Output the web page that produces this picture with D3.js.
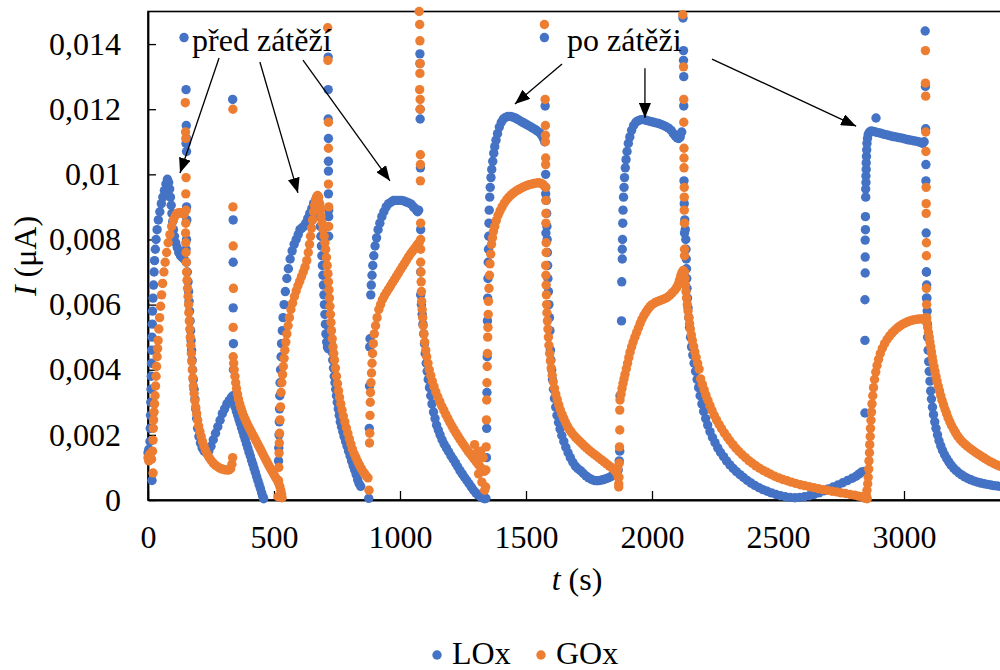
<!DOCTYPE html>
<html><head><meta charset="utf-8">
<script src="https://cdn.jsdelivr.net/npm/d3@7/dist/d3.min.js"></script>
<style>html,body{margin:0;padding:0;background:#fff}svg{display:block}
svg text{font-family:'Liberation Serif','Times New Roman','DejaVu Serif',serif !important;}</style>
</head><body>
<svg id="chart" width="1000" height="670"></svg>
<script>
// ---------------- data: [t (s), I (µA)] ----------------
const xTickValues = [0,500,1000,1500,2000,2500,3000];
const xTickLabels = ["0","500","1000","1500","2000","2500","3000"];
const yTickValues = [0,0.002,0.004,0.006,0.008,0.01,0.012,0.014];
const yTickLabels = ["0","0,002","0,004","0,006","0,008","0,01","0,012","0,014"];
const seriesNames = ["LOx","GOx"];

const lox1 = [[0,1.45e-3],[3,1.55e-3],[6,1.3e-3],[16,0.6e-3],[8,1.8e-3],[9,2.2e-3],[10,2.6e-3],[11,3.0e-3],[12,3.4e-3],[13,3.8e-3],[14,4.2e-3],[15,4.6e-3],[16,5.0e-3],[17,5.4e-3],[18,5.8e-3],[20,6.2e-3],[22,6.6e-3],[24,7.0e-3],[26,7.35e-3],[29,7.7e-3],[32,8.0e-3],[36,8.3e-3],[41,8.6e-3],[47,8.85e-3],[53,9.1e-3],[59,9.3e-3],[65,9.5e-3],[71,9.7e-3],[77,9.85e-3],[82,9.75e-3],[86,9.55e-3],[89,9.3e-3],[92,9.05e-3],[95,8.8e-3],[98,8.55e-3],[101,8.3e-3],[105,8.1e-3],[110,7.9e-3],[116,7.75e-3],[122,7.6e-3],[129,7.5e-3],[136,7.45e-3],[143,7.4e-3],
[152,7.3e-3],[156,7.0e-3],[159,6.7e-3],[161,6.4e-3],[163,6.1e-3],[165,5.8e-3],[167,5.5e-3],[169,5.2e-3],[171,4.9e-3],[173,4.6e-3],[175,4.3e-3],[177,4.0e-3],[180,3.7e-3],[183,3.4e-3],[186,3.1e-3],[189,2.8e-3],[193,2.5e-3],[197,2.2e-3],[202,1.95e-3],[208,1.75e-3],[215,1.6e-3],[223,1.5e-3],[232,1.45e-3],[241,1.5e-3],[250,1.65e-3],[259,1.85e-3],[268,2.05e-3],[277,2.25e-3],[286,2.45e-3],[295,2.65e-3],[304,2.8e-3],[313,2.95e-3],[322,3.05e-3],[331,3.15e-3],[337,3.2e-3],
[341,2.97e-3],[346,2.85e-3],[351,2.72e-3],[356,2.6e-3],[361,2.47e-3],[366,2.35e-3],[371,2.22e-3],[376,2.1e-3],[381,1.97e-3],[386,1.85e-3],[391,1.72e-3],[396,1.6e-3],[401,1.47e-3],[406,1.35e-3],[411,1.22e-3],[416,1.1e-3],[421,0.97e-3],[426,0.85e-3],[431,0.72e-3],[436,0.6e-3],[441,0.47e-3],[446,0.35e-3],[451,0.22e-3],[455,0.12e-3],[459,0.04e-3]];

const lox2 = [[518,1.2e-3],[519,1.6e-3],[520,2.0e-3],[521,2.4e-3],[522,2.8e-3],[523,3.2e-3],[524,3.6e-3],[526,4.0e-3],[528,4.4e-3],[530,4.8e-3],[533,5.2e-3],[536,5.6e-3],[540,6.0e-3],[545,6.4e-3],[551,6.8e-3],[557,7.1e-3],[564,7.4e-3],[572,7.65e-3],[580,7.85e-3],[588,8.0e-3],[596,8.15e-3],[603,8.3e-3],[610,8.35e-3],[618,8.4e-3],[626,8.5e-3],[634,8.65e-3],[642,8.8e-3],[650,8.95e-3],[657,9.1e-3],[664,9.2e-3],[670,9.3e-3],[675,9.25e-3],[679,9.0e-3],[682,8.7e-3],[684,8.4e-3],[686,8.1e-3],[688,7.8e-3],[690,7.5e-3],[692,7.2e-3],[694,6.9e-3],[696,6.6e-3],[698,6.3e-3],[700,6.0e-3],[702,5.7e-3],[704,5.4e-3],[706,5.1e-3],[709,4.85e-3],[712,4.7e-3],[715,4.65e-3],
[718,5.3e-3],[721,5.15e-3],[724,5.0e-3],[727,4.8e-3],[730,4.55e-3],[733,4.3e-3],[736,4.05e-3],[739,3.8e-3],[742,3.6e-3],[745,3.4e-3],[748,3.2e-3],[751,3.0e-3],[755,2.8e-3],[759,2.6e-3],[763,2.4e-3],[768,2.25e-3],[773,2.1e-3],[778,1.95e-3],[784,1.8e-3],[790,1.65e-3],[796,1.5e-3],[802,1.35e-3],[808,1.2e-3],[814,1.05e-3],[820,0.92e-3],[826,0.78e-3],[832,0.62e-3],[838,0.5e-3],[844,0.42e-3]];

const lox3 = [[876,0.05e-3],[878,2.2e-3],[879,3.5e-3],[880,4.7e-3],[881,4.95e-3],[884,6.3e-3],[886,6.6e-3],[889,6.9e-3],[892,7.2e-3],[896,7.5e-3],[901,7.8e-3],[907,8.05e-3],[913,8.3e-3],[920,8.5e-3],[928,8.7e-3],[936,8.85e-3],[945,9.0e-3],[955,9.1e-3],[965,9.15e-3],[975,9.2e-3],[985,9.2e-3],[995,9.2e-3],[1005,9.2e-3],[1015,9.18e-3],[1025,9.15e-3],[1035,9.12e-3],[1045,9.08e-3],[1053,9.0e-3],[1060,8.95e-3],[1066,8.9e-3],[1070,8.85e-3],[1074,8.9e-3],
[1082,6.3e-3],[1085,6.0e-3],[1088,5.7e-3],[1091,5.4e-3],[1094,5.1e-3],[1097,4.8e-3],[1100,4.5e-3],[1104,4.2e-3],[1108,3.95e-3],[1112,3.7e-3],[1117,3.45e-3],[1122,3.2e-3],[1127,2.95e-3],[1133,2.7e-3],[1139,2.5e-3],[1145,2.3e-3],[1152,2.15e-3],[1159,2.0e-3],[1167,1.85e-3],[1175,1.72e-3],[1184,1.6e-3],[1193,1.48e-3],[1202,1.36e-3],[1211,1.25e-3],[1220,1.14e-3],[1229,1.02e-3],[1238,0.9e-3],[1247,0.8e-3],[1256,0.7e-3],[1265,0.6e-3],[1274,0.5e-3],[1283,0.4e-3],[1292,0.3e-3],[1301,0.22e-3],[1310,0.15e-3],[1319,0.1e-3],[1328,0.06e-3],[1336,0.04e-3]];

const lox4 = [[1341,0.05e-3],[1343,1.3e-3],[1344,2.2e-3],[1345,3.3e-3],[1346,4.4e-3],[1347,5.5e-3],[1348,6.2e-3],[1349,6.8e-3],[1350,7.3e-3],[1351,7.7e-3],[1352,8.1e-3],[1353,8.5e-3],[1354,8.9e-3],[1356,9.3e-3],[1358,9.6e-3],[1361,9.9e-3],[1364,10.15e-3],[1368,10.4e-3],[1372,10.65e-3],[1376,10.85e-3],[1381,11.05e-3],[1387,11.25e-3],[1394,11.45e-3],[1402,11.6e-3],[1410,11.7e-3],[1419,11.75e-3],[1428,11.78e-3],[1437,11.78e-3],[1446,11.76e-3],[1455,11.74e-3],[1464,11.7e-3],[1473,11.66e-3],[1482,11.62e-3],[1491,11.58e-3],[1500,11.54e-3],[1509,11.5e-3],[1518,11.46e-3],[1527,11.42e-3],[1536,11.38e-3],[1545,11.33e-3],[1554,11.28e-3],[1562,11.2e-3],[1569,11.1e-3],[1574,11.0e-3],
[1578,9.6e-3],[1580,9.2e-3],[1582,8.8e-3],[1583,8.4e-3],[1584,8.0e-3],[1585,7.6e-3],[1586,7.2e-3],[1587,6.8e-3],[1589,6.4e-3],[1591,6.0e-3],[1593,5.6e-3],[1595,5.2e-3],[1597,4.6e-3],[1599,4.3e-3],[1602,4.0e-3],[1605,3.7e-3],[1609,3.4e-3],[1613,3.12e-3],[1618,2.85e-3],[1623,2.6e-3],[1629,2.38e-3],[1635,2.18e-3],[1642,1.98e-3],[1650,1.8e-3],[1658,1.62e-3],[1667,1.45e-3],[1676,1.3e-3],[1686,1.16e-3],[1696,1.04e-3],[1706,0.96e-3],[1716,0.9e-3],[1727,0.82e-3],[1738,0.74e-3],[1749,0.68e-3],[1760,0.63e-3],[1771,0.6e-3],[1782,0.59e-3],[1793,0.6e-3],[1804,0.62e-3],[1815,0.65e-3],[1826,0.68e-3],[1837,0.72e-3],[1848,0.78e-3],[1858,0.85e-3],[1866,0.92e-3]];

const lox5 = [[1870,1.2e-3],[1872,1.5e-3],[1873,3.2e-3],[1879,5.5e-3],[1880,6.7e-3],[1882,7.4e-3],[1882,7.7e-3],[1883,8.0e-3],[1884,8.5e-3],[1885,8.9e-3],[1887,9.3e-3],[1889,9.6e-3],[1891,9.9e-3],[1894,10.2e-3],[1897,10.45e-3],[1901,10.7e-3],[1906,10.95e-3],[1912,11.15e-3],[1919,11.35e-3],[1927,11.5e-3],[1936,11.6e-3],[1946,11.65e-3],[1956,11.68e-3],[1966,11.68e-3],[1976,11.66e-3],[1986,11.64e-3],[1996,11.62e-3],[2006,11.6e-3],[2016,11.58e-3],[2026,11.56e-3],[2036,11.53e-3],[2046,11.5e-3],[2056,11.46e-3],[2066,11.42e-3],[2076,11.35e-3],[2085,11.25e-3],[2093,11.17e-3],[2100,11.12e-3],[2106,11.1e-3],[2112,11.15e-3],[2118,11.3e-3],
[2130,8.6e-3],[2132,8.3e-3],[2134,8.0e-3],[2135,7.7e-3],[2136,7.4e-3],[2137,7.1e-3],[2138,6.8e-3],[2139,6.5e-3],[2141,6.2e-3],[2143,5.9e-3],[2146,5.6e-3],[2149,5.3e-3],[2153,5.0e-3],[2157,4.7e-3],[2162,4.45e-3],[2167,4.2e-3],[2173,3.95e-3],[2179,3.7e-3],[2185,3.45e-3],[2191,3.2e-3],[2198,2.95e-3],[2205,2.72e-3],[2213,2.5e-3],[2221,2.3e-3],[2230,2.1e-3],[2240,1.92e-3],[2250,1.76e-3],[2261,1.6e-3],[2272,1.46e-3],[2284,1.33e-3],[2296,1.2e-3],[2309,1.08e-3],[2322,0.97e-3],[2335,0.87e-3],[2349,0.78e-3],[2363,0.69e-3],[2378,0.6e-3],[2393,0.52e-3],[2408,0.45e-3],[2424,0.38e-3],[2440,0.32e-3],[2457,0.27e-3],[2474,0.22e-3],[2492,0.17e-3],[2510,0.13e-3],[2529,0.1e-3],[2548,0.08e-3],[2567,0.07e-3],[2586,0.08e-3],[2605,0.1e-3],[2624,0.13e-3],[2643,0.17e-3],[2662,0.22e-3],[2681,0.28e-3],[2700,0.34e-3],[2719,0.4e-3],[2738,0.46e-3],[2757,0.53e-3],[2776,0.6e-3],[2795,0.67e-3],[2810,0.73e-3],[2822,0.8e-3],[2832,0.86e-3]];

const lox6 = [[2843,0.88e-3],[2845,2.67e-3],[2845,4.9e-3],[2845,6.15e-3],[2846,6.97e-3],[2846,7.46e-3],[2846,7.98e-3],[2847,8.3e-3],[2847,8.7e-3],[2848,9.3e-3],[2848,9.55e-3],[2849,9.75e-3],[2849,9.95e-3],[2850,10.15e-3],[2850,10.35e-3],[2851,10.55e-3],[2852,10.75e-3],[2853,10.95e-3],[2855,11.1e-3],[2858,11.22e-3],[2863,11.3e-3],[2870,11.33e-3],[2889,11.73e-3],[2878,11.32e-3],[2887,11.3e-3],[2897,11.28e-3],[2907,11.26e-3],[2917,11.24e-3],[2927,11.22e-3],[2937,11.2e-3],[2947,11.18e-3],[2957,11.16e-3],[2967,11.15e-3],[2977,11.13e-3],[2987,11.12e-3],[2997,11.1e-3],[3007,11.08e-3],[3017,11.06e-3],[3027,11.05e-3],[3037,11.03e-3],[3047,11.02e-3],[3057,11.0e-3],[3066,10.98e-3],[3074,10.95e-3],[3080,11.0e-3],
[3089,7.0e-3],[3090,6.6e-3],[3091,6.2e-3],[3092,5.8e-3],[3093,5.4e-3],[3094,5.0e-3],[3096,4.6e-3],[3098,4.25e-3],[3100,3.95e-3],[3103,3.65e-3],[3106,3.35e-3],[3109,3.1e-3],[3113,2.85e-3],[3117,2.62e-3],[3122,2.4e-3],[3127,2.2e-3],[3133,2.0e-3],[3139,1.82e-3],[3146,1.66e-3],[3153,1.52e-3],[3161,1.39e-3],[3169,1.28e-3],[3178,1.17e-3],[3187,1.07e-3],[3197,0.98e-3],[3207,0.9e-3],[3218,0.83e-3],[3229,0.77e-3],[3241,0.71e-3],[3253,0.66e-3],[3266,0.62e-3],[3279,0.58e-3],[3292,0.55e-3],[3305,0.52e-3],[3318,0.5e-3],[3331,0.48e-3],[3344,0.46e-3],[3357,0.44e-3],[3370,0.43e-3],[3383,0.42e-3],[3396,0.41e-3]];

const loxSpikes = [[143,14.2e-3],[151,12.6e-3],[152,11.5e-3],[153,11.1e-3],[151,10.95e-3],[153,10.7e-3],[153,9.0e-3],[154,8.6e-3],[153,8.0e-3],[151,7.7e-3],
[336,12.3e-3],[338,8.6e-3],[338,7.3e-3],[338,5.9e-3],[339,4.8e-3],[339,4.0e-3],
[715,13.6e-3],[715,12.6e-3],[715,11.7e-3],[716,11.1e-3],[716,10.4e-3],[716,10.1e-3],[716,9.4e-3],[717,8.9e-3],[717,8.7e-3],[717,8.1e-3],
[1079,13.7e-3],[1079,13.4e-3],[1080,12.0e-3],[1080,11.7e-3],[1081,10.2e-3],[1082,8.3e-3],[1082,7.0e-3],
[1573,14.2e-3],[1576,12.1e-3],[1578,10.0e-3],[1578,9.4e-3],[1579,8.2e-3],
[2123,14.8e-3],[2125,13.8e-3],[2125,13.5e-3],[2126,13.0e-3],[2126,12.1e-3],[2127,9.8e-3],[2128,9.1e-3],[2129,8.2e-3],
[3084,14.4e-3],[3085,12.7e-3],[3086,11.4e-3],[3087,10.3e-3],[3087,9.8e-3],[3088,8.2e-3],[3089,7.0e-3],[3089,6.2e-3]];

const gox1 = [[0,1.3e-3],[3,1.2e-3],[6,1.4e-3],[10,1.3e-3],[14,1.25e-3],[18,1.5e-3],[20,0.83e-3],[20,1.84e-3],[21,2.2e-3],[22,2.46e-3],[24,2.7e-3],[26,2.95e-3],[28,3.2e-3],[30,3.5e-3],[32,3.8e-3],[34,4.1e-3],[36,4.4e-3],[38,4.65e-3],[40,4.9e-3],[43,5.25e-3],[46,5.6e-3],[50,5.95e-3],[54,6.3e-3],[58,6.65e-3],[63,7.0e-3],[68,7.3e-3],[74,7.6e-3],[80,7.9e-3],[87,8.15e-3],[94,8.4e-3],[101,8.6e-3],[108,8.72e-3],[115,8.8e-3],[122,8.82e-3],[129,8.82e-3],[136,8.8e-3],[143,8.78e-3],
[149,8.2e-3],[150,7.9e-3],[151,7.6e-3],[152,7.3e-3],[153,7.0e-3],[155,6.75e-3],[157,6.5e-3],[159,6.25e-3],[161,6.0e-3],[162,5.75e-3],[164,5.5e-3],[166,5.25e-3],[168,5.0e-3],[170,4.75e-3],[172,4.5e-3],[174,4.25e-3],[176,4.0e-3],[178,3.75e-3],[180,3.5e-3],[183,3.27e-3],[186,3.05e-3],[189,2.85e-3],[193,2.65e-3],[197,2.45e-3],[201,2.27e-3],[206,2.1e-3],[211,1.95e-3],[216,1.8e-3],[222,1.66e-3],[228,1.53e-3],[235,1.41e-3],[242,1.31e-3],[250,1.22e-3],[258,1.14e-3],[267,1.07e-3],[276,1.02e-3],[285,0.98e-3],[294,0.95e-3],[303,0.93e-3],[312,0.92e-3],[321,0.92e-3],[328,0.96e-3],[333,1.1e-3],[336,1.3e-3],
[338,4.4e-3],[340,4.2e-3],[342,4.0e-3],[345,3.8e-3],[348,3.6e-3],[351,3.42e-3],[355,3.25e-3],[359,3.1e-3],[364,2.95e-3],[369,2.82e-3],[374,2.7e-3],[380,2.58e-3],[386,2.47e-3],[392,2.37e-3],[398,2.27e-3],[404,2.18e-3],[410,2.09e-3],[416,2.0e-3],[422,1.92e-3],[428,1.83e-3],[434,1.74e-3],[440,1.65e-3],[446,1.56e-3],[452,1.47e-3],[458,1.38e-3],[464,1.29e-3],[470,1.2e-3],[476,1.11e-3],[482,1.02e-3],[488,0.94e-3],[494,0.86e-3],[500,0.78e-3],[506,0.7e-3],[512,0.62e-3],[518,0.52e-3],[523,0.42e-3],[527,0.3e-3],[530,0.18e-3],[532,0.07e-3]];

const gox2 = [[516,0.1e-3],[518,0.6e-3],[519,1.0e-3],[520,1.44e-3],[521,1.75e-3],[522,2.05e-3],[524,2.46e-3],[526,2.86e-3],[528,3.3e-3],[531,3.6e-3],[534,3.85e-3],[537,4.1e-3],[540,4.35e-3],[543,4.6e-3],[547,4.85e-3],[551,5.1e-3],[556,5.35e-3],[561,5.6e-3],[567,5.85e-3],[574,6.05e-3],[581,6.25e-3],[588,6.42e-3],[595,6.58e-3],[602,6.72e-3],[609,6.86e-3],[616,7.0e-3],[623,7.15e-3],[630,7.35e-3],[636,7.6e-3],[641,7.85e-3],[645,8.1e-3],[649,8.35e-3],[653,8.6e-3],[657,8.85e-3],[661,9.05e-3],[665,9.2e-3],[669,9.3e-3],[673,9.35e-3],[677,9.3e-3],[681,9.1e-3],[684,8.9e-3],[687,8.7e-3],[691,8.5e-3],[695,8.3e-3],[699,8.1e-3],[702,7.9e-3],[705,7.7e-3],[708,7.45e-3],[711,7.2e-3],[714,6.95e-3],[716,6.7e-3],[718,6.45e-3],[720,6.2e-3],[722,5.95e-3],[724,5.7e-3],[726,5.45e-3],[728,5.2e-3],[731,4.95e-3],[734,4.7e-3],[737,4.5e-3],[740,4.3e-3],[744,4.05e-3],[748,3.8e-3],[752,3.57e-3],[756,3.35e-3],[760,3.15e-3],[765,2.95e-3],[770,2.76e-3],[775,2.58e-3],[781,2.4e-3],[787,2.22e-3],[793,2.05e-3],[799,1.88e-3],[805,1.72e-3],[811,1.56e-3],[818,1.42e-3],[825,1.3e-3],[832,1.18e-3],[839,1.07e-3],[846,0.97e-3],[853,0.88e-3],[860,0.8e-3],[867,0.73e-3],[873,0.68e-3]];

const gox3 = [[877,0.3e-3],[879,1.75e-3],[880,2.05e-3],[881,2.6e-3],[882,3.0e-3],[883,3.3e-3],[885,3.6e-3],[887,3.9e-3],[889,4.2e-3],[891,4.5e-3],[894,4.8e-3],[898,5.1e-3],[903,5.35e-3],[909,5.6e-3],[916,5.85e-3],[923,6.0e-3],[930,6.15e-3],[938,6.27e-3],[946,6.37e-3],[954,6.47e-3],[962,6.57e-3],[970,6.67e-3],[978,6.77e-3],[986,6.87e-3],[994,6.97e-3],[1002,7.07e-3],[1010,7.17e-3],[1018,7.27e-3],[1026,7.37e-3],[1034,7.47e-3],[1042,7.56e-3],[1050,7.64e-3],[1058,7.72e-3],[1065,7.8e-3],[1071,7.86e-3],[1076,7.9e-3],
[1082,7.3e-3],[1083,7.0e-3],[1084,6.7e-3],[1085,6.4e-3],[1086,6.1e-3],[1088,5.85e-3],[1090,5.6e-3],[1092,5.35e-3],[1095,5.1e-3],[1098,4.85e-3],[1102,4.6e-3],[1106,4.4e-3],[1111,4.2e-3],[1116,4.0e-3],[1122,3.82e-3],[1128,3.65e-3],[1135,3.48e-3],[1142,3.32e-3],[1150,3.17e-3],[1158,3.02e-3],[1166,2.88e-3],[1174,2.75e-3],[1182,2.62e-3],[1190,2.5e-3],[1198,2.38e-3],[1206,2.27e-3],[1214,2.16e-3],[1222,2.06e-3],[1230,1.96e-3],[1238,1.86e-3],[1246,1.77e-3],[1254,1.68e-3],[1262,1.59e-3],[1270,1.5e-3],[1278,1.42e-3],[1286,1.34e-3],[1294,1.26e-3],[1302,1.18e-3],[1310,1.1e-3],[1318,1.02e-3],[1326,0.95e-3],[1334,0.88e-3],
[1296,1.7e-3],[1305,1.45e-3],[1312,0.8e-3],[1320,1.5e-3],[1325,0.55e-3],[1330,1.3e-3],[1336,0.3e-3]];

const gox4 = [[1340,0.4e-3],[1341,0.92e-3],[1342,1.63e-3],[1343,2.46e-3],[1344,3.07e-3],[1345,3.6e-3],[1346,4.1e-3],[1347,4.5e-3],[1348,5.0e-3],[1349,5.3e-3],[1350,5.7e-3],[1351,6.1e-3],[1353,6.5e-3],[1355,6.9e-3],[1357,7.25e-3],[1360,7.55e-3],[1363,7.85e-3],[1367,8.05e-3],[1371,8.25e-3],[1376,8.4e-3],[1382,8.58e-3],[1389,8.74e-3],[1397,8.88e-3],[1405,9.0e-3],[1414,9.12e-3],[1423,9.22e-3],[1432,9.3e-3],[1441,9.37e-3],[1450,9.43e-3],[1459,9.48e-3],[1468,9.52e-3],[1477,9.56e-3],[1486,9.6e-3],[1495,9.63e-3],[1504,9.66e-3],[1513,9.68e-3],[1522,9.7e-3],[1531,9.72e-3],[1540,9.73e-3],[1549,9.74e-3],[1558,9.73e-3],[1566,9.7e-3],[1572,9.65e-3],
[1578,7.2e-3],[1579,6.9e-3],[1580,6.6e-3],[1581,6.3e-3],[1582,6.0e-3],[1583,5.75e-3],[1585,5.5e-3],[1587,5.25e-3],[1589,5.0e-3],[1591,4.75e-3],[1594,4.5e-3],[1597,4.27e-3],[1600,4.05e-3],[1604,3.83e-3],[1608,3.63e-3],[1613,3.43e-3],[1618,3.25e-3],[1624,3.08e-3],[1630,2.92e-3],[1636,2.77e-3],[1643,2.63e-3],[1650,2.5e-3],[1657,2.38e-3],[1664,2.27e-3],[1671,2.18e-3],[1678,2.1e-3],[1686,2.02e-3],[1695,1.94e-3],[1704,1.87e-3],[1713,1.8e-3],[1722,1.73e-3],[1731,1.66e-3],[1740,1.6e-3],[1750,1.53e-3],[1760,1.47e-3],[1770,1.41e-3],[1780,1.35e-3],[1790,1.29e-3],[1800,1.23e-3],[1810,1.17e-3],[1820,1.11e-3],[1830,1.05e-3],[1840,0.99e-3],[1850,0.92e-3],[1858,0.85e-3],[1864,0.95e-3],[1866,0.7e-3],[1868,0.5e-3]];

const gox5 = [[1868,0.4e-3],[1869,0.7e-3],[1870,1.13e-3],[1871,1.63e-3],[1872,2.15e-3],[1872,2.76e-3],[1873,3.07e-3],[1877,3.25e-3],[1881,3.42e-3],[1885,3.58e-3],[1889,3.72e-3],[1893,3.86e-3],[1898,4.03e-3],[1903,4.2e-3],[1908,4.37e-3],[1913,4.54e-3],[1919,4.7e-3],[1925,4.85e-3],[1932,5.0e-3],[1939,5.14e-3],[1946,5.28e-3],[1953,5.42e-3],[1960,5.55e-3],[1968,5.67e-3],[1976,5.77e-3],[1984,5.86e-3],[1992,5.94e-3],[2000,6.0e-3],[2010,6.05e-3],[2020,6.09e-3],[2030,6.12e-3],[2040,6.15e-3],[2050,6.18e-3],[2060,6.22e-3],[2070,6.28e-3],[2080,6.36e-3],[2090,6.44e-3],[2098,6.52e-3],[2104,6.62e-3],[2109,6.75e-3],[2114,6.88e-3],[2119,6.98e-3],[2124,7.05e-3],
[2129,7.0e-3],[2131,6.8e-3],[2133,6.6e-3],[2135,6.4e-3],[2137,6.2e-3],[2140,6.0e-3],[2143,5.8e-3],[2146,5.6e-3],[2149,5.42e-3],[2152,5.25e-3],[2156,5.07e-3],[2160,4.9e-3],[2165,4.72e-3],[2170,4.55e-3],[2175,4.38e-3],[2181,4.2e-3],[2187,4.02e-3],[2193,3.72e-3],[2200,3.55e-3],[2207,3.38e-3],[2214,3.22e-3],[2222,3.06e-3],[2230,2.9e-3],[2238,2.75e-3],[2247,2.6e-3],[2256,2.46e-3],[2266,2.32e-3],[2276,2.19e-3],[2287,2.06e-3],[2298,1.94e-3],[2309,1.82e-3],[2321,1.7e-3],[2333,1.59e-3],[2345,1.49e-3],[2358,1.39e-3],[2371,1.3e-3],[2384,1.21e-3],[2398,1.13e-3],[2412,1.05e-3],[2426,0.98e-3],[2441,0.91e-3],[2456,0.85e-3],[2471,0.79e-3],[2487,0.73e-3],[2503,0.68e-3],[2519,0.63e-3],[2536,0.59e-3],[2553,0.55e-3],[2570,0.51e-3],[2588,0.47e-3],[2606,0.44e-3],[2624,0.41e-3],[2642,0.38e-3],[2660,0.35e-3],[2678,0.32e-3],[2696,0.3e-3],[2714,0.27e-3],[2732,0.25e-3],[2750,0.22e-3],[2768,0.2e-3],[2786,0.17e-3],[2804,0.15e-3],[2820,0.12e-3],[2834,0.1e-3],[2846,0.07e-3],[2854,0.04e-3]];

const gox6 = [[2846,0.05e-3],[2850,0.15e-3],[2853,0.3e-3],[2856,0.5e-3],[2858,0.7e-3],[2860,0.95e-3],[2861,1.2e-3],[2863,1.45e-3],[2864,1.7e-3],[2866,1.95e-3],[2867,2.2e-3],[2869,2.45e-3],[2871,2.7e-3],[2873,2.95e-3],[2876,3.2e-3],[2879,3.45e-3],[2883,3.7e-3],[2888,3.93e-3],[2893,4.13e-3],[2899,4.32e-3],[2906,4.5e-3],[2914,4.66e-3],[2923,4.8e-3],[2933,4.93e-3],[2943,5.04e-3],[2953,5.13e-3],[2963,5.21e-3],[2973,5.28e-3],[2983,5.34e-3],[2993,5.39e-3],[3003,5.43e-3],[3013,5.47e-3],[3023,5.5e-3],[3033,5.52e-3],[3043,5.54e-3],[3053,5.55e-3],[3063,5.56e-3],[3072,5.56e-3],[3080,5.55e-3],
[3089,5.55e-3],[3091,5.45e-3],[3094,5.3e-3],[3097,5.15e-3],[3100,5.0e-3],[3103,4.85e-3],[3106,4.7e-3],[3109,4.55e-3],[3112,4.4e-3],[3115,4.25e-3],[3119,4.1e-3],[3123,3.95e-3],[3127,3.8e-3],[3131,3.65e-3],[3136,3.5e-3],[3141,3.35e-3],[3146,3.2e-3],[3151,3.06e-3],[3157,2.92e-3],[3163,2.78e-3],[3169,2.65e-3],[3175,2.52e-3],[3182,2.4e-3],[3189,2.28e-3],[3197,2.17e-3],[3205,2.06e-3],[3213,1.96e-3],[3222,1.87e-3],[3231,1.79e-3],[3241,1.72e-3],[3251,1.65e-3],[3262,1.58e-3],[3273,1.52e-3],[3284,1.46e-3],[3296,1.4e-3],[3308,1.34e-3],[3320,1.28e-3],[3332,1.22e-3],[3344,1.17e-3],[3356,1.12e-3],[3368,1.08e-3],[3380,1.04e-3],[3392,1.0e-3]];

const goxSpikes = [[148,12.2e-3],[149,11.3e-3],[150,11.1e-3],[151,9.9e-3],[150,9.4e-3],[151,8.9e-3],[150,8.5e-3],
[337,12.0e-3],[337,9.0e-3],[338,7.8e-3],[339,6.5e-3],[338,5.3e-3],
[713,14.5e-3],[714,13.5e-3],[716,11.6e-3],[716,10.8e-3],[716,9.7e-3],[717,9.0e-3],[717,8.4e-3],
[1076,15.0e-3],[1078,14.6e-3],[1079,14.1e-3],[1080,13.4e-3],[1079,13.1e-3],[1078,12.6e-3],[1080,12.3e-3],[1080,12.0e-3],[1081,10.6e-3],[1081,10.3e-3],[1081,9.8e-3],[1082,8.5e-3],[1082,8.0e-3],[1082,7.7e-3],
[1573,14.6e-3],[1576,12.3e-3],[1577,11.5e-3],[1577,11.2e-3],[1577,11.0e-3],[1578,10.5e-3],[1578,10.3e-3],[1578,9.6e-3],[1579,9.2e-3],[1579,8.8e-3],[1579,8.5e-3],[1580,7.9e-3],[1580,7.6e-3],
[2122,14.9e-3],[2125,13.3e-3],[2126,12.3e-3],[2126,11.6e-3],[2127,10.8e-3],[2127,10.5e-3],[2127,10.2e-3],[2128,9.6e-3],[2128,9.3e-3],[2128,8.9e-3],[2129,8.5e-3],[2129,7.7e-3],[2129,7.5e-3],
[3085,13.8e-3],[3085,12.8e-3],[3086,12.4e-3],[3086,11.3e-3],[3087,10.7e-3],[3088,9.6e-3],[3088,9.1e-3],[3088,8.8e-3],[3089,7.9e-3],[3089,7.5e-3],[3089,6.5e-3],[3090,6.0e-3],[3090,5.6e-3]];

// annotations in data coordinates
const annotationTexts = ["před zátěží","po zátěži"];
const annotationAnchors = [[175,13.79e-3],[1663,13.79e-3]];
const arrowsFrom = [[282,13.57e-3],[444,13.45e-3],[615,13.51e-3],[1643,13.39e-3],[1972,13.26e-3],[2238,13.54e-3]];
const arrowsTo   = [[127,10.04e-3],[595,9.43e-3],[960,9.8e-3],[1456,12.16e-3],[1972,11.73e-3],[2810,11.48e-3]];

// ---------------- drawing ----------------
const FONT = "'Liberation Serif','Times New Roman','DejaVu Serif',serif";
const COLORS = ["#4472C4","#ED7D31"];
const svg = d3.select("#chart");
const x = d3.scaleLinear().domain([0,3500]).range([148,1030]);
const y = d3.scaleLinear().domain([0,0.015]).range([500,11.5]);

const defs = svg.append("defs");
defs.append("marker").attr("id","ah").attr("viewBox","0 0 15 12").attr("refX",15).attr("refY",6)
  .attr("markerWidth",15).attr("markerHeight",12).attr("markerUnits","userSpaceOnUse").attr("orient","auto")
  .append("path").attr("d","M0,0L15,6L0,12Z").attr("fill","#000");

svg.append("rect").attr("x",x(0)).attr("y",y(0.015)).attr("width",x(3500)-x(0)).attr("height",y(0)-y(0.015))
  .attr("fill","none").attr("stroke","#000").attr("stroke-width",1.6);

const yAxis = svg.append("g").attr("transform",`translate(${x(0)},0)`)
  .call(d3.axisLeft(y).tickValues(yTickValues).tickFormat((d,i)=>yTickLabels[i]).tickSizeInner(-8).tickSizeOuter(0).tickPadding(27));
const xAxis = svg.append("g").attr("transform",`translate(0,${y(0)})`)
  .call(d3.axisBottom(x).tickValues(xTickValues).tickFormat((d,i)=>xTickLabels[i]).tickSizeInner(-9).tickSizeOuter(0).tickPadding(25));
[yAxis,xAxis].forEach(g=>{
  g.attr("font-family",null).attr("font-size",null);
  g.select(".domain").attr("stroke","#000").attr("stroke-width",1.8);
  g.selectAll(".tick line").attr("stroke","#000").attr("stroke-width",1.3);
  g.selectAll(".tick text").attr("fill","#000").style("font-family",FONT).style("font-size","32px");
});

const loxAll = [].concat(lox1,lox2,lox3,lox4,lox5,lox6,loxSpikes);
const goxAll = [].concat(gox1,gox2,gox3,gox4,gox5,gox6,goxSpikes);
[loxAll,goxAll].forEach((data,k)=>{
  svg.append("g").selectAll("circle").data(data).join("circle")
    .attr("cx",d=>x(d[0])).attr("cy",d=>y(d[1])).attr("r",4.7).attr("fill",COLORS[k]);
});

annotationTexts.forEach((t,i)=>{
  svg.append("text").attr("x",x(annotationAnchors[i][0])).attr("y",y(annotationAnchors[i][1]))
    .style("font-family",FONT).style("font-size","32px").attr("fill","#000").text(t);
});
arrowsFrom.forEach((f,i)=>{
  svg.append("line").attr("x1",x(f[0])).attr("y1",y(f[1])).attr("x2",x(arrowsTo[i][0])).attr("y2",y(arrowsTo[i][1]))
    .attr("stroke","#000").attr("stroke-width",1.3).attr("marker-end","url(#ah)");
});

const yt = svg.append("text").attr("transform","translate(36,256) rotate(-90)").attr("text-anchor","middle")
  .style("font-family",FONT).style("font-size","32px").attr("fill","#000");
yt.append("tspan").attr("font-style","italic").text("I");
yt.append("tspan").text(" (μA)");
const xt = svg.append("text").attr("x",577).attr("y",590).attr("text-anchor","middle")
  .style("font-family",FONT).style("font-size","32px").attr("fill","#000");
xt.append("tspan").attr("font-style","italic").text("t");
xt.append("tspan").text(" (s)");

const legX = [437,541];
seriesNames.forEach((n,i)=>{
  svg.append("circle").attr("cx",legX[i]).attr("cy",655).attr("r",4.7).attr("fill",COLORS[i]);
  svg.append("text").attr("x",legX[i]+15).attr("y",664).style("font-family",FONT).style("font-size","32px").attr("fill","#000").text(n);
});
</script>
</body></html>
